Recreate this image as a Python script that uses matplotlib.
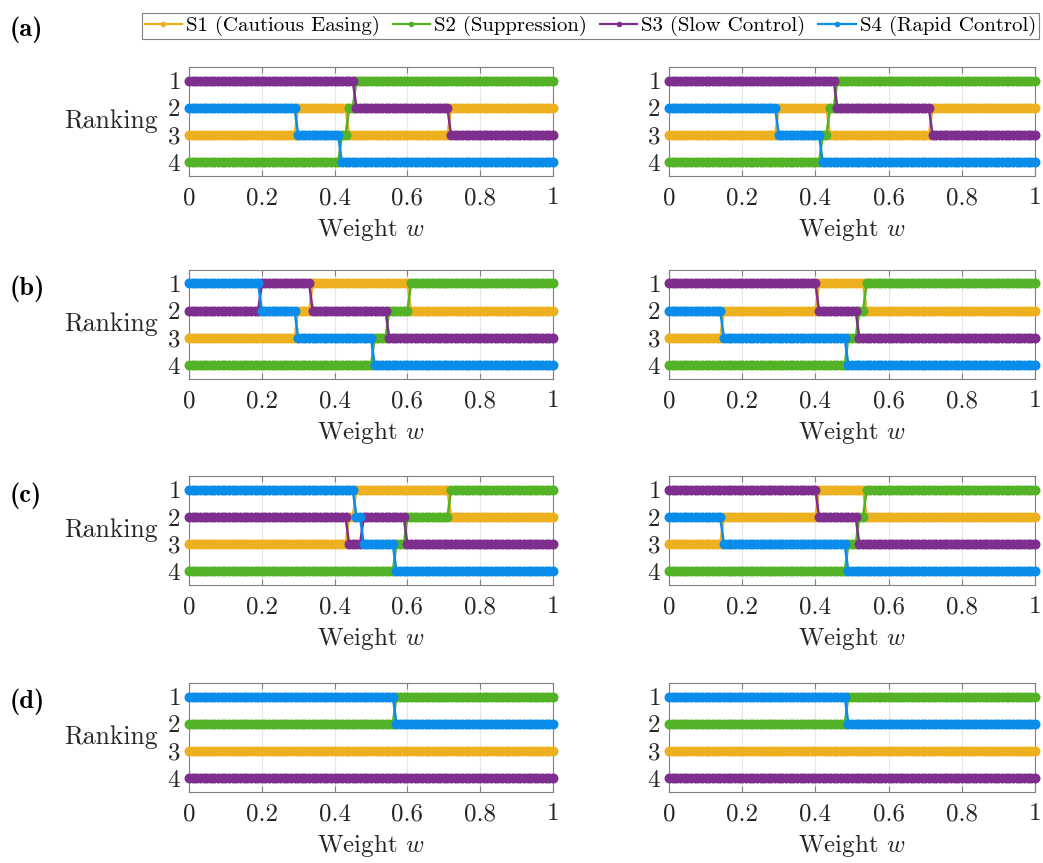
import numpy as np
import matplotlib
matplotlib.use("Agg")
import matplotlib.pyplot as plt
from matplotlib.lines import Line2D
from matplotlib.ticker import FuncFormatter

plt.rcParams["font.family"] = "serif"
plt.rcParams["font.serif"] = ["cmr10"]
plt.rcParams["mathtext.fontset"] = "cm"
plt.rcParams["axes.formatter.use_mathtext"] = True

# weight samples
w = np.linspace(0, 1, 101)

series = ["S1", "S2", "S3", "S4"]
labels = ["S1 (Cautious Easing)", "S2 (Suppression)", "S3 (Slow Control)", "S4 (Rapid Control)"]
colors = ["#EDB120", "#53B225", "#7E2F8E", "#0A8CEB"]

# ranking as a step function of w: (switch points, ranks on each piece)
a_left = {"S1": ([0.295, 0.435, 0.715], [3, 2, 3, 2]),
          "S2": ([0.415, 0.435, 0.455], [4, 3, 2, 1]),
          "S3": ([0.455, 0.715], [1, 2, 3]),
          "S4": ([0.295, 0.415], [2, 3, 4])}
a_right = {"S1": ([0.295, 0.435, 0.715], [3, 2, 3, 2]),
           "S2": ([0.415, 0.435, 0.455], [4, 3, 2, 1]),
           "S3": ([0.455, 0.715], [1, 2, 3]),
           "S4": ([0.295, 0.415], [2, 3, 4])}
b_left = {"S1": ([0.295, 0.335, 0.605], [3, 2, 1, 2]),
          "S2": ([0.505, 0.545, 0.605], [4, 3, 2, 1]),
          "S3": ([0.195, 0.335, 0.545], [2, 1, 2, 3]),
          "S4": ([0.195, 0.295, 0.505], [1, 2, 3, 4])}
b_right = {"S1": ([0.145, 0.405, 0.535], [3, 2, 1, 2]),
           "S2": ([0.485, 0.515, 0.535], [4, 3, 2, 1]),
           "S3": ([0.405, 0.515], [1, 2, 3]),
           "S4": ([0.145, 0.485], [2, 3, 4])}
c_left = {"S1": ([0.435, 0.455, 0.715], [3, 2, 1, 2]),
          "S2": ([0.565, 0.595, 0.715], [4, 3, 2, 1]),
          "S3": ([0.435, 0.475, 0.595], [2, 3, 2, 3]),
          "S4": ([0.455, 0.475, 0.565], [1, 2, 3, 4])}
c_right = {"S1": ([0.145, 0.405, 0.535], [3, 2, 1, 2]),
           "S2": ([0.485, 0.515, 0.535], [4, 3, 2, 1]),
           "S3": ([0.405, 0.515], [1, 2, 3]),
           "S4": ([0.145, 0.485], [2, 3, 4])}
d_left = {"S1": ([], [3]),
          "S2": ([0.565], [2, 1]),
          "S3": ([], [4]),
          "S4": ([0.565], [1, 2])}
d_right = {"S1": ([], [3]),
           "S2": ([0.485], [2, 1]),
           "S3": ([], [4]),
           "S4": ([0.485], [1, 2])}

rows = [("a", a_left, a_right), ("b", b_left, b_right),
        ("c", c_left, c_right), ("d", d_left, d_right)]


def rank_curve(breaks, ranks):
    idx = np.searchsorted(np.array(breaks, dtype=float), w, side="right")
    return np.array(ranks)[idx]


fig = plt.figure(figsize=(10.43, 8.63), dpi=100)

bottoms = [0.796, 0.561, 0.322, 0.0823]
height = 0.1263
lefts = [0.1812, 0.6414]
widths = [0.349, 0.351]
label_y = [0.965, 0.665, 0.426, 0.187]

for r, (tag, left_data, right_data) in enumerate(rows):
    for c, data in enumerate([left_data, right_data]):
        ax = fig.add_axes([lefts[c], bottoms[r], widths[c], height])
        for s, col in zip(series, colors):
            br, rk = data[s]
            ax.plot(w, rank_curve(br, rk), "-o", color=col, lw=1.8,
                    ms=7.2, mew=0, clip_on=False, zorder=3)
        ax.set_xlim(0, 1)
        ax.set_ylim(4.5, 0.5)
        ax.set_xticks([0, 0.2, 0.4, 0.6, 0.8, 1])
        ax.set_yticks([1, 2, 3, 4])
        ax.xaxis.set_major_formatter(FuncFormatter(lambda v, p: "%g" % v))
        ax.tick_params(direction="in", top=True, right=False, length=4,
                       color="#808080", labelsize=18, labelcolor="#262626", pad=6)
        ax.tick_params(axis="x", pad=8)
        ax.grid(True, axis="x", color="#e6e6e6", lw=0.8, zorder=0)
        for sp in ax.spines.values():
            sp.set_color("#808080")
            sp.set_linewidth(0.8)
        ax.set_xlabel("Weight $w$", fontsize=18, color="#262626", labelpad=5)
        if c == 0:
            ax.set_ylabel("Ranking", fontsize=18.5, rotation=0, ha="right",
                          va="center", color="#262626")
            ax.yaxis.set_label_coords(-0.085, 0.5)
    fig.text(0.009, label_y[r], "(%s)" % tag, fontsize=19, family="cmb10",
             ha="left", va="center")

handles = [Line2D([], [], color=col, lw=1.6, marker="o", ms=4, mew=0) for col in colors]
leg = fig.legend(handles, labels, loc="center", bbox_to_anchor=(0.566, 0.970),
                 ncol=4, fontsize=15, frameon=True, fancybox=False,
                 edgecolor="#808080", framealpha=1, handlelength=1.8,
                 handletextpad=0.2, columnspacing=0.6, borderpad=0.15,
                 borderaxespad=0)
leg.get_frame().set_linewidth(0.8)

fig.savefig("out.png", dpi=100)
